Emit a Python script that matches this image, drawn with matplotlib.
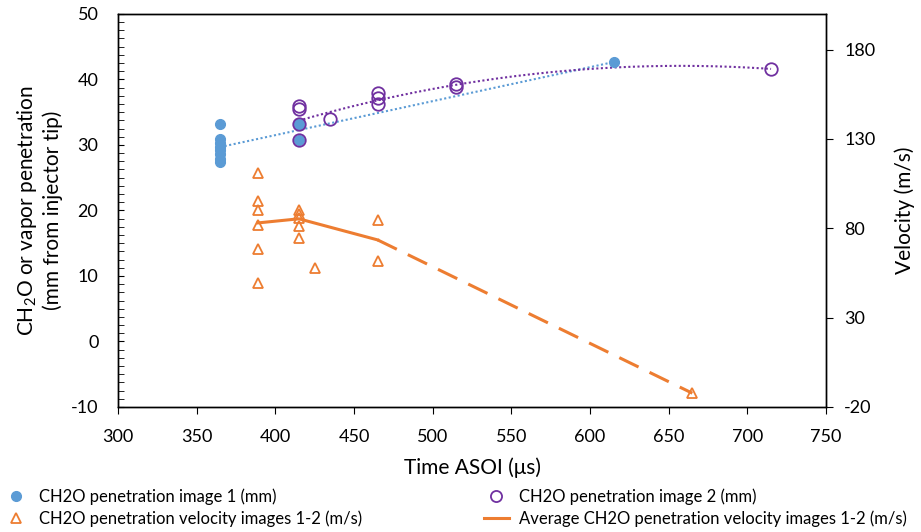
import numpy as np
import matplotlib
matplotlib.use("Agg")
import matplotlib.pyplot as plt
from matplotlib.lines import Line2D
from matplotlib.ticker import MultipleLocator

plt.rcParams["font.family"] = ["Lato", "DejaVu Sans"]
plt.rcParams["axes.unicode_minus"] = False

# CH2O penetration, image 1 (mm)
img1_t = [365, 365, 365, 365, 365, 365, 365, 365, 415, 415, 415, 615]
img1_pen = [33.2, 30.9, 30.3, 29.7, 29.2, 28.6, 27.9, 27.4, 33.3, 33.0, 30.7, 42.6]

# CH2O penetration, image 2 (mm)
img2_t = [415, 415, 415, 415, 435, 465, 465, 465, 515, 515, 715]
img2_pen = [35.9, 35.4, 33.2, 30.8, 33.9, 37.9, 37.1, 36.3, 39.3, 38.8, 41.6]

# penetration velocity between images 1-2 (m/s)
vel_t = [389, 389, 389, 389, 389, 389, 415, 415, 415, 415, 415, 425, 465, 465, 665]
vel = [111, 95.5, 90.5, 82, 68.5, 49.5, 90.5, 88, 85.5, 81, 74.5, 58, 84.5, 61.5, -12.3]

# average velocity (m/s)
avg_t = [389, 415, 465, 665]
avg_vel = [83, 85.3, 73.5, -12.3]

blue = "#5B9BD5"
purple = "#7030A0"
orange = "#ED7D31"

fig = plt.figure(figsize=(9.21, 5.32), dpi=100)
ax = fig.add_axes([0.128, 0.235, 0.769, 0.739])
ax2 = ax.twinx()

# trendlines
c1 = np.polyfit(img1_t, img1_pen, 1)
xx1 = np.linspace(min(img1_t), max(img1_t), 100)
ax.plot(xx1, np.polyval(c1, xx1), color=blue, lw=1.5, ls=(0, (1, 1.2)))
c2 = np.polyfit(img2_t, img2_pen, 2)
xx2 = np.linspace(min(img2_t), max(img2_t), 200)
ax.plot(xx2, np.polyval(c2, xx2), color=purple, lw=1.5, ls=(0, (1, 1.2)))

ax.plot(img1_t, img1_pen, "o", color=blue, ms=7, zorder=3)
ax.plot(img2_t, img2_pen, "o", mfc="none", mec=purple, mew=1.3, ms=9, zorder=4)

ax2.plot(vel_t, vel, "^", mfc="none", mec=orange, mew=1.3, ms=7)
ax2.plot(avg_t[:3], avg_vel[:3], color=orange, lw=2.2)
ax2.plot(avg_t[2:], avg_vel[2:], color=orange, lw=2.2, ls=(0, (7, 4)))

ax.set_xlim(300, 750)
ax.set_ylim(-10, 50)
ax2.set_ylim(-20, 200)
ax.xaxis.set_major_locator(MultipleLocator(50))
ax.yaxis.set_major_locator(MultipleLocator(10))
ax.yaxis.set_minor_locator(MultipleLocator(1.25))
ax2.set_yticks([-20, 30, 80, 130, 180])

ax.tick_params(axis="y", which="both", direction="in", length=4, labelsize=13, pad=14)
ax.tick_params(axis="x", direction="out", length=5, labelsize=13, pad=11)
ax2.tick_params(axis="y", direction="out", length=5, labelsize=13, pad=8)
for a in (ax, ax2):
    for s in a.spines.values():
        s.set_linewidth(1.0)
        s.set_color("black")

ax.set_xlabel("Time ASOI (μs)", fontsize=15, labelpad=9)
ax.set_ylabel("$\\mathregular{CH_2O}$ or vapor penetration\n(mm from injector tip)",
              fontsize=15, labelpad=6)
ax2.set_ylabel("Velocity (m/s)", fontsize=15, labelpad=14)

handles = [
    Line2D([], [], marker="o", ls="none", color=blue, ms=7),
    Line2D([], [], marker="^", ls="none", mfc="none", mec=orange, mew=1.3, ms=7),
    Line2D([], [], marker="o", ls="none", mfc="none", mec=purple, mew=1.3, ms=8),
    Line2D([], [], color=orange, lw=2.2),
]
labels = [
    "CH2O penetration image 1 (mm)",
    "CH2O penetration velocity images 1-2 (m/s)",
    "CH2O penetration image 2 (mm)",
    "Average CH2O penetration velocity images 1-2 (m/s)",
]
fig.legend(handles, labels, ncol=2, loc="lower left", bbox_to_anchor=(-0.012, -0.018),
           frameon=False, fontsize=12, columnspacing=7.3, handlelength=1.5,
           handletextpad=0.6, labelspacing=0.3)

fig.savefig("out.png", dpi=100)
